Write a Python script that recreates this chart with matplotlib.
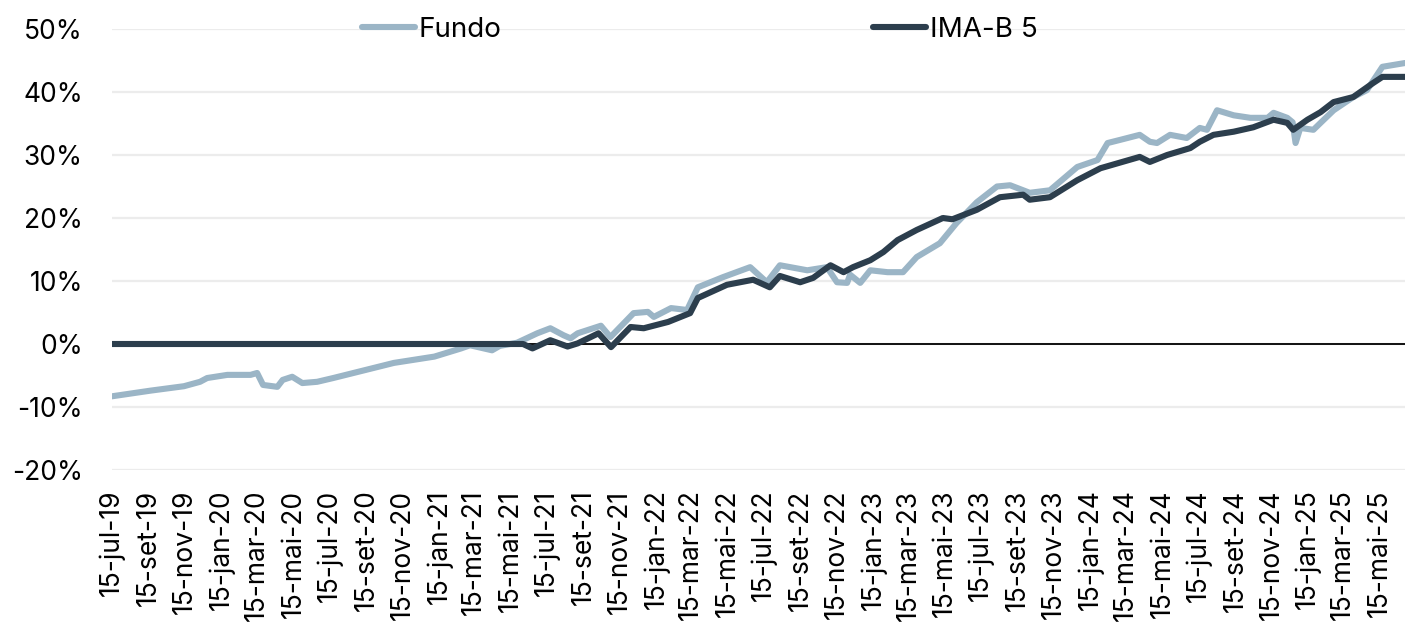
import pandas as pd
import matplotlib.pyplot as plt
import matplotlib.ticker as mticker

plt.rcParams['font.family'] = ['Inter', 'DejaVu Sans']

# Fundo (retorno acumulado, %)
fundo_datas = ['2019-07-15', '2019-09-18', '2019-11-13', '2019-12-10', '2019-12-22', '2020-01-25',
               '2020-03-04', '2020-03-15', '2020-03-25', '2020-04-18', '2020-04-27', '2020-05-13',
               '2020-05-30', '2020-06-24', '2020-07-21', '2020-08-24', '2020-10-31', '2021-01-07',
               '2021-02-21', '2021-03-08', '2021-04-14', '2021-04-27', '2021-05-26', '2021-06-29',
               '2021-07-21', '2021-08-12', '2021-08-24', '2021-09-05', '2021-10-14', '2021-10-30',
               '2021-12-08', '2022-01-01', '2022-01-11', '2022-02-09', '2022-03-08', '2022-03-26',
               '2022-05-07', '2022-06-22', '2022-07-20', '2022-08-11', '2022-09-26', '2022-10-29',
               '2022-11-15', '2022-12-02', '2022-12-07', '2022-12-24', '2023-01-10', '2023-02-08',
               '2023-03-06', '2023-03-29', '2023-05-07', '2023-06-04', '2023-07-08', '2023-08-11',
               '2023-09-02', '2023-10-05', '2023-11-08', '2023-12-24', '2024-01-27', '2024-02-13',
               '2024-03-05', '2024-04-07', '2024-04-24', '2024-05-06', '2024-05-28', '2024-06-25',
               '2024-07-17', '2024-07-29', '2024-08-15', '2024-09-12', '2024-10-10', '2024-11-08',
               '2024-11-18', '2024-12-11', '2024-12-20', '2024-12-25', '2025-01-02', '2025-01-24',
               '2025-02-05', '2025-02-27', '2025-04-01', '2025-04-24', '2025-05-20', '2025-06-27']
fundo_vals = [-8.3, -7.4, -6.7, -6.0, -5.4, -4.9,
              -4.9, -4.6, -6.5, -6.8, -5.7, -5.2,
              -6.2, -6.0, -5.4, -4.6, -3.0, -2.0,
              -0.7, -0.2, -1.0, -0.3, 0.2, 1.7,
              2.5, 1.4, 0.9, 1.7, 2.9, 1.1,
              4.9, 5.1, 4.3, 5.7, 5.4, 9.0,
              10.6, 12.2, 9.8, 12.5, 11.7, 12.2,
              9.8, 9.7, 11.0, 9.7, 11.7, 11.4,
              11.4, 13.8, 16.0, 19.2, 22.5, 25.0,
              25.2, 24.0, 24.4, 28.1, 29.2, 31.9,
              32.4, 33.2, 32.1, 31.9, 33.2, 32.7,
              34.3, 34.0, 37.1, 36.3, 35.9, 35.9,
              36.7, 35.9, 35.2, 31.9, 34.3, 34.0,
              35.1, 37.1, 39.2, 40.3, 44.0, 44.6]

# IMA-B 5 (retorno acumulado, %)
ima_datas = ['2019-07-15', '2021-06-05', '2021-06-21', '2021-07-21', '2021-08-19', '2021-09-05',
             '2021-10-10', '2021-10-31', '2021-12-03', '2021-12-25', '2022-02-04', '2022-03-13',
             '2022-03-26', '2022-05-14', '2022-06-05', '2022-06-27', '2022-07-25', '2022-08-11',
             '2022-09-14', '2022-10-06', '2022-11-04', '2022-11-26', '2022-12-12', '2023-01-10',
             '2023-02-01', '2023-02-25', '2023-03-29', '2023-05-12', '2023-05-28', '2023-07-08',
             '2023-08-16', '2023-09-24', '2023-10-05', '2023-11-08', '2023-12-24', '2024-02-01',
             '2024-04-07', '2024-04-24', '2024-05-23', '2024-07-01', '2024-07-17', '2024-08-09',
             '2024-09-12', '2024-10-15', '2024-11-18', '2024-12-11', '2024-12-21', '2025-01-14',
             '2025-02-05', '2025-02-27', '2025-04-01', '2025-05-04', '2025-05-20', '2025-06-27']
ima_vals = [0.0, 0.0, -0.7, 0.6, -0.4, 0.1,
            1.7, -0.5, 2.7, 2.5, 3.5, 4.9,
            7.3, 9.4, 9.8, 10.2, 9.0, 10.8,
            9.8, 10.5, 12.5, 11.4, 12.2, 13.3,
            14.6, 16.5, 18.1, 20.0, 19.8, 21.3,
            23.3, 23.7, 22.9, 23.3, 26.0, 27.9,
            29.7, 28.9, 30.0, 31.1, 32.1, 33.2,
            33.7, 34.4, 35.6, 35.1, 34.0, 35.6,
            36.8, 38.4, 39.2, 41.4, 42.4, 42.4]

meses_pt = ['jan', 'fev', 'mar', 'abr', 'mai', 'jun', 'jul', 'ago', 'set', 'out', 'nov', 'dez']
ticks = pd.date_range('2019-07-01', '2025-05-01', freq='2MS') + pd.Timedelta(days=14)
tick_labels = ['15-%s-%s' % (meses_pt[d.month - 1], str(d.year)[2:]) for d in ticks]

fig = plt.figure(figsize=(14.05, 6.28), dpi=100)
ax = fig.add_axes([112/1405, 1 - 470/628, 1 - 112/1405, (470 - 29)/628])

l_fundo, = ax.plot(pd.to_datetime(fundo_datas), fundo_vals, color='#9bb5c6', lw=4.4,
                   solid_capstyle='round', label='Fundo', zorder=3)
l_ima, = ax.plot(pd.to_datetime(ima_datas), ima_vals, color='#2c3e4d', lw=4.4,
                 solid_capstyle='round', label='IMA-B 5', zorder=4)
ax.axhline(0, color='black', lw=1.3, zorder=2)

ax.set_xlim(pd.Timestamp('2019-07-15'), pd.Timestamp('2025-06-27'))
ax.set_ylim(-20, 50)
ax.set_yticks(range(-20, 51, 10))
ax.yaxis.set_major_formatter(mticker.FuncFormatter(lambda v, p: '%d%%' % v))
ax.set_xticks(ticks)
ax.set_xticklabels(tick_labels, rotation=90)
ax.grid(axis='y', color='#ececec', lw=1.6, zorder=0)
ax.set_axisbelow(True)
for s in ax.spines.values():
    s.set_visible(False)
ax.tick_params(axis='both', length=0, labelsize=19, colors='black')
ax.tick_params(axis='y', pad=21)
ax.tick_params(axis='x', pad=14)

# legend entries sit far apart, so one legend per entry
for h, x0 in [(l_fundo, 362), (l_ima, 873)]:
    fig.legend(handles=[h], loc='center left', bbox_to_anchor=(x0/1405, 1 - 30/628),
               frameon=False, fontsize=20, handlelength=1.9, handletextpad=0.15,
               borderpad=0, borderaxespad=0)

fig.savefig('out.png', dpi=100)
